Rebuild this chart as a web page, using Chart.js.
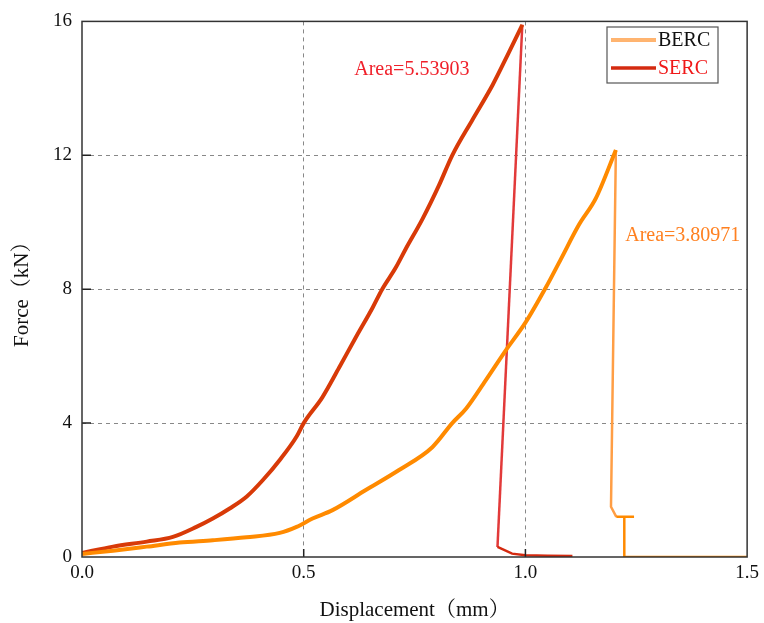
<!DOCTYPE html>
<html>
<head>
<meta charset="utf-8">
<script src="https://cdn.jsdelivr.net/npm/chart.js@4.4.1/dist/chart.umd.min.js"></script>
<style>
  body { margin: 0; background: #fff; }
  #wrap { width: 764px; height: 623px; }
</style>
</head>
<body>
<div id="wrap"><canvas id="chart" width="764" height="623"></canvas></div>
<script>
// force-displacement curves
const sercDisp  = [0, 0.07, 0.146, 0.205, 0.258, 0.295, 0.333, 0.371, 0.408, 0.446, 0.484, 0.5, 0.542, 0.58, 0.617, 0.655, 0.677, 0.707, 0.73, 0.768, 0.805, 0.835, 0.88, 0.926, 0.96, 0.993, 0.937, 0.97, 1.0, 1.05, 1.106];
const sercForce = [0.12, 0.31, 0.46, 0.6, 0.9, 1.15, 1.45, 1.8, 2.3, 2.9, 3.6, 4.0, 4.77, 5.66, 6.55, 7.44, 8.0, 8.63, 9.2, 10.1, 11.1, 12.0, 13.05, 14.1, 15.0, 15.9, 0.3, 0.1, 0.05, 0.04, 0.03];
const sercPeak = 25;

const bercDisp  = [0, 0.07, 0.146, 0.22, 0.295, 0.371, 0.446, 0.484, 0.52, 0.565, 0.64, 0.715, 0.79, 0.835, 0.866, 0.91, 0.955, 1.0, 1.046, 1.08, 1.121, 1.159, 1.204, 1.193, 1.205, 1.245, 1.223, 1.223, 1.5];
const bercForce = [0.09, 0.19, 0.31, 0.43, 0.5, 0.59, 0.72, 0.9, 1.15, 1.4, 2.0, 2.6, 3.28, 4.0, 4.43, 5.27, 6.16, 7.0, 8.05, 8.9, 9.93, 10.72, 12.16, 1.5, 1.2, 1.2, 1.2, 0, 0];
const bercPeak = 22;

const xTicks = [0, 0.5, 1.0, 1.5];
const yTicks = [0, 4, 8, 12, 16];

const areaLabels = [
  { text: 'Area=5.53903', x: 0.614, y: 14.55, color: '#f0202a' },
  { text: 'Area=3.80971', x: 1.225, y: 9.6, color: '#ff8020' },
];

const SERIF = '"Liberation Serif", "Times New Roman", "Noto Serif CJK SC", "Noto Sans CJK SC", serif';

const toPts = (xs, ys) => xs.map((x, i) => ({ x, y: ys[i] }));

// rising part (smooth) and failure part (straight) of each curve
const rise = (xs, ys, k) => toPts(xs.slice(0, k + 1), ys.slice(0, k + 1));
const fall = (xs, ys, k) => toPts(xs.slice(k), ys.slice(k));

const framePlugin = {
  id: 'frame',
  afterDatasetsDraw(chart) {
    const { ctx, chartArea: a, scales: { x, y } } = chart;
    ctx.save();
    // inward tick marks
    ctx.strokeStyle = '#222';
    ctx.lineWidth = 1.5;
    ctx.beginPath();
    xTicks.slice(1, -1).forEach(v => {
      const px = x.getPixelForValue(v);
      ctx.moveTo(px, a.bottom); ctx.lineTo(px, a.bottom - 8);
    });
    yTicks.slice(1, -1).forEach(v => {
      const py = y.getPixelForValue(v);
      ctx.moveTo(a.left, py); ctx.lineTo(a.left + 9, py);
    });
    ctx.stroke();
    // frame box
    ctx.strokeStyle = '#333';
    ctx.lineWidth = 1.5;
    ctx.strokeRect(a.left, a.top, a.right - a.left, a.bottom - a.top);

    // area annotations
    ctx.font = '20px ' + SERIF;
    ctx.textBaseline = 'middle';
    ctx.textAlign = 'left';
    areaLabels.forEach(l => {
      ctx.fillStyle = l.color;
      ctx.fillText(l.text, x.getPixelForValue(l.x), y.getPixelForValue(l.y));
    });

    // legend box
    const lx = 607, ly = 27, lw = 111, lh = 56;
    ctx.fillStyle = '#fff';
    ctx.fillRect(lx, ly, lw, lh);
    ctx.strokeStyle = '#555';
    ctx.lineWidth = 1.2;
    ctx.strokeRect(lx, ly, lw, lh);
    const items = [
      { label: 'BERC', line: '#ff9a40', core: '#ffd0a0', text: '#111', yy: ly + 13 },
      { label: 'SERC', line: '#d42a10', core: null, text: '#f01818', yy: ly + 41 },
    ];
    items.forEach(it => {
      ctx.strokeStyle = it.line;
      ctx.lineWidth = 3.5;
      ctx.beginPath(); ctx.moveTo(lx + 4, it.yy); ctx.lineTo(lx + 49, it.yy); ctx.stroke();
      if (it.core) {
        ctx.strokeStyle = it.core; ctx.lineWidth = 1;
        ctx.beginPath(); ctx.moveTo(lx + 4, it.yy); ctx.lineTo(lx + 49, it.yy); ctx.stroke();
      }
      ctx.fillStyle = it.text;
      ctx.font = '20px ' + SERIF;
      ctx.fillText(it.label, lx + 51, it.yy + 1);
    });
    ctx.restore();
  }
};

const lineBase = { pointRadius: 0, fill: false };

new Chart(document.getElementById('chart'), {
  type: 'line',
  data: {
    datasets: [
      { ...lineBase, label: 'BERC', data: rise(bercDisp, bercForce, bercPeak),
        borderColor: '#ff8a00', borderWidth: 4, cubicInterpolationMode: 'monotone' },
      { ...lineBase, label: 'BERC', data: fall(bercDisp, bercForce, bercPeak),
        borderColor: '#ff8a00', borderWidth: 2.5, tension: 0,
        segment: { borderColor: c => c.p0DataIndex < 2 ? '#ff9e45' : undefined } },
      { ...lineBase, label: 'SERC', data: rise(sercDisp, sercForce, sercPeak),
        borderColor: '#d83a08', borderWidth: 4, cubicInterpolationMode: 'monotone' },
      { ...lineBase, label: 'SERC', data: fall(sercDisp, sercForce, sercPeak),
        borderColor: '#d42a10', borderWidth: 2.5, tension: 0,
        segment: { borderColor: c => c.p0DataIndex === 0 ? '#e23a3a' : undefined } },
    ],
  },
  options: {
    responsive: false,
    animation: false,
    layout: { padding: { top: 19, right: 16, left: 0, bottom: 0 } },
    plugins: { legend: { display: false }, tooltip: { enabled: false } },
    scales: {
      x: {
        type: 'linear',
        min: 0, max: 1.5,
        afterBuildTicks: s => { s.ticks = xTicks.map(v => ({ value: v })); },
        afterFit: s => { s.height = 66; },
        ticks: {
          padding: 5,
          color: '#111',
          font: { family: SERIF, size: 19 },
          callback: v => v.toFixed(1),
        },
        grid: {
          drawTicks: false,
          color: c => (c.tick && (c.tick.value === 0 || c.tick.value === 1.5)) ? 'rgba(0,0,0,0)' : '#888',
          lineWidth: 1,
        },
        border: { display: false, dash: [4, 4] },
        title: {
          display: true,
          text: 'Displacement（mm）',
          color: '#111',
          font: { family: SERIF, size: 21 },
          padding: { top: 4, bottom: 0 },
        },
      },
      y: {
        type: 'linear',
        min: 0, max: 16,
        afterBuildTicks: s => { s.ticks = yTicks.map(v => ({ value: v })); },
        afterFit: s => { s.width = 82; },
        ticks: {
          padding: 10,
          color: '#111',
          font: { family: SERIF, size: 19 },
        },
        grid: {
          drawTicks: false,
          color: c => (c.tick && (c.tick.value === 0 || c.tick.value === 16)) ? 'rgba(0,0,0,0)' : '#888',
          lineWidth: 1,
        },
        border: { display: false, dash: [4, 4] },
        title: {
          display: true,
          text: 'Force（kN）',
          color: '#111',
          font: { family: SERIF, size: 21 },
          padding: { top: 10, bottom: 4 },
        },
      },
    },
  },
  plugins: [framePlugin],
});
</script>
</body>
</html>
